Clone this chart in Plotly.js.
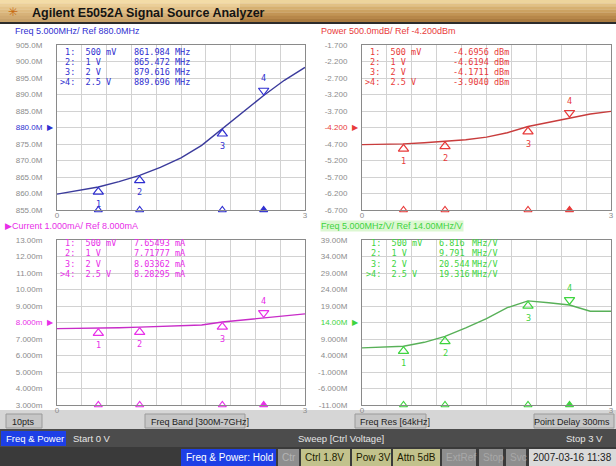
<!DOCTYPE html>
<html><head><meta charset="utf-8">
<script src="https://cdn.plot.ly/plotly-3.0.1.min.js"></script>
<style>html,body{margin:0;padding:0;background:#fff;overflow:hidden}#chart{width:616px;height:466px;}</style>
</head><body><div id="chart"></div>
<script>
// ---------------- data ----------------
const voltage   = [0, 0.25, 0.5, 0.75, 1.0, 1.25, 1.5, 1.75, 2.0, 2.25, 2.5, 2.75, 3.0];
const freqMHz   = [859.8, 860.9, 861.984, 863.6, 865.472, 867.9, 870.8, 874.6, 879.616, 884.4, 889.696, 894.3, 898.2];
const powerDBm  = [-4.72, -4.71, -4.6956, -4.66, -4.6194, -4.57, -4.49, -4.36, -4.1711, -4.04, -3.904, -3.79, -3.71];
const currentMA = [7.63, 7.64, 7.65493, 7.68, 7.71777, 7.76, 7.80, 7.85, 8.03362, 8.15, 8.28295, 8.40, 8.52];
const sensMHzV  = [6.3, 6.5, 6.816, 8.0, 9.791, 12.4, 15.2, 18.5, 20.544, 20.0, 19.316, 17.4, 17.4];

const markerNo    = ['1', '2', '3', '4'];
const markerV     = [0.5, 1, 2, 2.5];
const markerLabel = ['500 mV', '1 V', '2 V', '2.5 V'];
const mFreq    = ['861.984', '865.472', '879.616', '889.696'];
const mPower   = ['-4.6956', '-4.6194', '-4.1711', '-3.9040'];
const mCurrent = ['7.65493', '7.71777', '8.03362', '8.28295'];
const mSens    = ['6.816', '9.791', '20.544', '19.316'];

const xTicks    = [0, 0.3, 0.6, 0.9, 1.2, 1.5, 1.8, 2.1, 2.4, 2.7, 3.0];
const xTickText = ['0', '', '', '', '', '', '', '', '', '', '3'];
const freqTicks    = [905, 900, 895, 890, 885, 880, 875, 870, 865, 860, 855];
const freqTickText = ['905.0M', '900.0M', '895.0M', '890.0M', '885.0M', '880.0M', '875.0M', '870.0M', '865.0M', '860.0M', '855.0M'];
const powerTicks    = [-1.7, -2.2, -2.7, -3.2, -3.7, -4.2, -4.7, -5.2, -5.7, -6.2, -6.7];
const powerTickText = ['-1.700', '-2.200', '-2.700', '-3.200', '-3.700', '-4.200', '-4.700', '-5.200', '-5.700', '-6.200', '-6.700'];
const currentTicks    = [13, 12, 11, 10, 9, 8, 7, 6, 5, 4, 3];
const currentTickText = ['13.00m', '12.00m', '11.00m', '10.00m', '9.000m', '8.000m', '7.000m', '6.000m', '5.000m', '4.000m', '3.000m'];
const sensTicks    = [39, 34, 29, 24, 19, 14, 9, 4, -1, -6, -11];
const sensTickText = ['39.00M', '34.00M', '29.00M', '24.00M', '19.00M', '14.00M', '9.000M', '4.000M', '-1.000M', '-6.000M', '-11.00M'];

// ---------------- layout helpers ----------------
const W = 616, H = 466;
const px = x => x / W, py = y => 1 - y / H;
const SANS = 'Liberation Sans, Arial, sans-serif';
const MONO = 'DejaVu Sans Mono, Liberation Mono, monospace';

const panels = [
  {y: freqMHz, m: mFreq, ticks: freqTicks, tt: freqTickText, ref: 880, line: '#3b3b9c', col: '#2f2fd0',
   header: 'Freq 5.000MHz/ Ref 880.0MHz', unit: 'MHz', box: [57, 305, 45, 210], hx: 14, hy: 31,
   labX: 57.5, valX: 132, unitX: null, rowY: [52, 62, 72, 82]},
  {y: powerDBm, m: mPower, ticks: powerTicks, tt: powerTickText, ref: -4.2, line: '#c83c3c', col: '#e83a3a',
   header: 'Power 500.0mdB/ Ref -4.200dBm', unit: 'dBm', box: [362, 611, 45, 210], hx: 320, hy: 31,
   labX: 363, valX: 451, unitX: null, rowY: [52, 62, 72, 82]},
  {y: currentMA, m: mCurrent, ticks: currentTicks, tt: currentTickText, ref: 8, line: '#c82cc8', col: '#e82ee8',
   header: '▶Current 1.000mA/ Ref 8.000mA', unit: 'mA', box: [57, 305, 240, 405], hx: 4, hy: 226,
   labX: 57.5, valX: 132, unitX: null, rowY: [243.5, 253.5, 263.5, 273.5]},
  {y: sensMHzV, m: mSens, ticks: sensTicks, tt: sensTickText, ref: 14, line: '#58b058', col: '#3ed43e',
   header: 'Freq 5.000MHz/V/ Ref 14.00MHz/V', unit: 'MHz/V', box: [362, 611, 240, 405], hx: 320, hy: 226,
   labX: 364, valX: 437, unitX: 470, rowY: [243.5, 253.5, 263.5, 273.5], hbg: '#dcf7d2'}
];

const traces = [], annotations = [], shapes = [];
const layout = {
  width: W, height: H, margin: {l: 0, r: 0, t: 0, b: 0, pad: 0},
  paper_bgcolor: '#ffffff', plot_bgcolor: '#ffffff', showlegend: false,
  font: {family: SANS, size: 9, color: '#333'}
};

panels.forEach((p, k) => {
  const n = k === 0 ? '' : String(k + 1);
  const xa = 'x' + n, ya = 'y' + n;
  const b = p.box;
  const ymin = Math.min(...p.ticks), ymax = Math.max(...p.ticks);

  traces.push({type: 'scatter', mode: 'lines', x: voltage, y: p.y, xaxis: xa, yaxis: ya,
    line: {color: p.line, width: 1.4}, hoverinfo: 'skip'});
  const mv = p.m.map(Number);
  traces.push({type: 'scatter', mode: 'markers', x: markerV, y: mv, xaxis: xa, yaxis: ya, cliponaxis: false,
    marker: {symbol: 'triangle-up-open', angle: [0, 0, 0, 180],
      size: 9, color: p.col, line: {width: 1.2, color: p.col}, standoff: 5}, hoverinfo: 'skip'});
  traces.push({type: 'scatter', mode: 'markers', x: markerV, y: markerV.map(() => ymin), xaxis: xa, yaxis: ya, cliponaxis: false,
    marker: {symbol: ['triangle-up-open', 'triangle-up-open', 'triangle-up-open', 'triangle-up'],
      size: 7, color: p.col, line: {width: 1.1, color: p.col}}, hoverinfo: 'skip'});

  layout['xaxis' + n] = {domain: [px(b[0]), px(b[1])], range: [0, 3], anchor: ya,
    tickmode: 'array', tickvals: xTicks, ticktext: xTickText, ticks: '', ticklabelstandoff: -3,
    tickfont: {family: SANS, size: 8, color: '#8c8c8c'},
    showgrid: true, gridcolor: '#d2d2d2', gridwidth: 1, zeroline: false,
    showline: true, linecolor: '#8a8a8a', linewidth: 1, mirror: true, fixedrange: true};
  layout['yaxis' + n] = {domain: [py(b[3]), py(b[2])], range: [ymin, ymax], anchor: xa,
    tickmode: 'array', tickvals: p.ticks,
    ticktext: p.tt.map((t, i) => p.ticks[i] === p.ref ? '<span style="color:' + p.col + '">' + t + '</span>' : t),
    ticks: '', ticklabelstandoff: 12,
    tickfont: {family: SANS, size: 8, color: '#8c8c8c'},
    showgrid: true, gridcolor: '#d2d2d2', gridwidth: 1, zeroline: false,
    showline: true, linecolor: '#8a8a8a', linewidth: 1, mirror: true, fixedrange: true};

  // ref arrow
  annotations.push({xref: xa + ' domain', yref: ya, x: 0, y: p.ref, xanchor: 'right', yanchor: 'middle', xshift: -1,
    text: '▶', showarrow: false, font: {family: 'DejaVu Sans', size: 8, color: p.col}});
  // header
  annotations.push({xref: 'paper', yref: 'paper', x: px(p.hx), y: py(p.hy), xanchor: 'left', yanchor: 'middle',
    text: p.header, showarrow: false, font: {family: SANS, size: 9, color: p.col},
    bgcolor: p.hbg || 'rgba(0,0,0,0)', borderpad: 0});
  // marker numbers near the trace
  markerV.forEach((v, i) => {
    annotations.push({xref: xa, yref: ya, x: v, y: mv[i], yshift: i < 3 ? -17 : 17, xanchor: 'center', yanchor: 'middle',
      text: markerNo[i], showarrow: false, font: {family: MONO, size: 8.5, color: p.col}});
  });
  // marker table
  markerNo.forEach((no, i) => {
    const lab = (i === 3 ? '>' : ' ') + no + ':  ' + markerLabel[i];
    annotations.push({xref: 'paper', yref: 'paper', x: px(p.labX), y: py(p.rowY[i]), xanchor: 'left', yanchor: 'middle',
      text: lab.replace(/ /g, '&nbsp;'), showarrow: false, font: {family: MONO, size: 8.5, color: p.col}});
    const val = p.unitX ? p.m[i] : p.m[i] + ' ' + p.unit;
    annotations.push({xref: 'paper', yref: 'paper', x: px(p.valX), y: py(p.rowY[i]), xanchor: 'left', yanchor: 'middle',
      text: val.replace(/ /g, '&nbsp;'), showarrow: false, font: {family: MONO, size: 8.5, color: p.col}});
    if (p.unitX) annotations.push({xref: 'paper', yref: 'paper', x: px(p.unitX), y: py(p.rowY[i]), xanchor: 'left', yanchor: 'middle',
      text: p.unit, showarrow: false, font: {family: MONO, size: 8.5, color: p.col}});
  });
});

// ---------------- window chrome ----------------
function rect(x0, y0, x1, y1, fill, line, extra) {
  shapes.push(Object.assign({type: 'rect', xref: 'paper', yref: 'paper', x0: px(x0), x1: px(x1), y0: py(y1), y1: py(y0),
    fillcolor: fill, line: {width: line ? 1 : 0, color: line || fill}, layer: 'below'}, extra || {}));
}
function label(x, y, text, color, size, anchor, extra) {
  annotations.push(Object.assign({xref: 'paper', yref: 'paper', x: px(x), y: py(y), xanchor: anchor || 'left', yanchor: 'middle',
    text: text, showarrow: false, font: {family: SANS, size: size || 9, color: color}}, extra || {}));
}
// title bar bands
const bandCols = ['#edd49c', '#e1c084', '#d6b070', '#cca262', '#c29455', '#b7874a', '#aa7b40'];
bandCols.forEach((c, i) => rect(0, i * 3.15, W, (i + 1) * 3.15 + 0.2, c));
rect(0, 0, 240, 22, 'rgba(255,235,190,0.35)');
rect(0, 22, W, 24, '#2c2c2c');
label(6, 12, '✳', '#c86a10', 12);
label(30, 12.5, '<b>Agilent E5052A Signal Source Analyzer</b>', '#141414', 12.5);

// row A
rect(0, 410, W, 429, '#d6d6d6');
rect(6, 414, 42, 428, '#c6c6c6', '#9a9a9a');
label(10, 421.5, '10pts', '#222', 9);
rect(145, 414, 245, 428, '#c6c6c6', '#9a9a9a');
label(149, 421.5, 'Freq Band [300M-7GHz]', '#222', 9);
rect(355, 414, 426, 428, '#c6c6c6', '#9a9a9a');
label(358, 421.5, 'Freq Res [64kHz]', '#222', 9);
rect(534, 414, 614, 428, '#c6c6c6', '#9a9a9a');
label(612, 421.5, 'Point Delay 300ms', '#222', 9, 'right');

// row B
rect(0, 429, W, 447, '#4c4c4c');
rect(1, 431, 66, 446, '#1d3fe6');
label(4, 438.5, 'Freq &amp; Power', '#ffffff', 9.5);
label(71, 438.5, 'Start 0 V', '#e6e6e6', 9.5);
label(296, 438.5, 'Sweep [Ctrl Voltage]', '#e6e6e6', 9.5);
label(605, 438.5, 'Stop 3 V', '#e6e6e6', 9.5, 'right');

// row C
rect(0, 447, W, H, '#3a3a3a');
rect(181, 449, 276, 466, '#1d3fe6');
label(184, 457.5, 'Freq &amp; Power: Hold', '#ffffff', 10);
const btns = [
  [278, 299, 'Ctr', '#8e8e8e', '#b4b4b4'],
  [301, 350, 'Ctrl 1.8V', '#c2c28c', '#1c1c00'],
  [352, 391, 'Pow 3V', '#c2c28c', '#1c1c00'],
  [393, 440, 'Attn 5dB', '#c2c28c', '#1c1c00'],
  [442, 476, 'ExtRef', '#8e8e8e', '#a8a8a8'],
  [479, 503, 'Stop', '#8e8e8e', '#a8a8a8'],
  [506, 526, 'Svc', '#8e8e8e', '#a8a8a8'],
  [529, 617, '2007-03-16 11:38', '#dadada', '#1c1c1c']
];
btns.forEach(b => {
  rect(b[0], 449, b[1], 466, b[3]);
  label(b[0] + 2, 457.5, b[2].replace(/ /g, '&nbsp;'), b[4], 10);
});

layout.annotations = annotations;
layout.shapes = shapes;
Plotly.newPlot('chart', traces, layout, {staticPlot: true, displayModeBar: false});
</script>
</body></html>
